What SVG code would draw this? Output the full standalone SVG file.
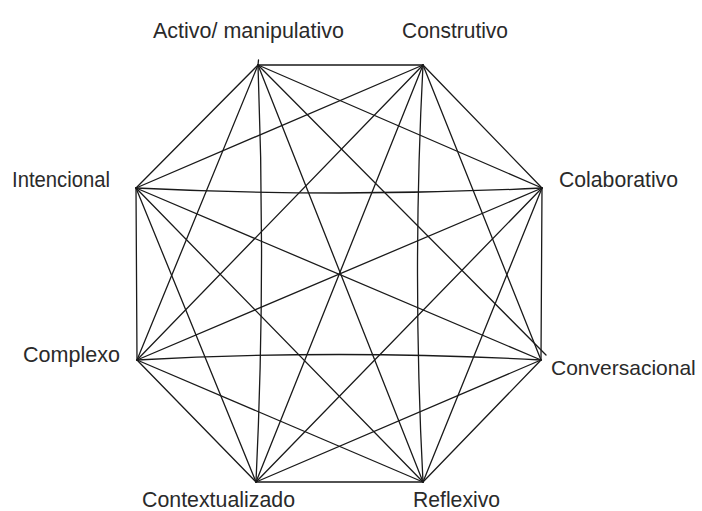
<svg xmlns="http://www.w3.org/2000/svg" width="702" height="511" viewBox="0 0 702 511">
  <style>
    .edge { fill: none; stroke: #1a1a1a; stroke-width: 1.3; stroke-linecap: round; }
    .label { font-family: "Liberation Sans", Arial, sans-serif; font-size: 22.5px; fill: #2a2a2a; }
    .label-small { font-family: "Liberation Sans", Arial, sans-serif; font-size: 21px; fill: #2a2a2a; }
  </style>
  <rect width="702" height="511" fill="#ffffff"/>

  <!-- Connectors: every pair of the eight learning attributes -->
  <g id="connectors">
    <!-- octagon sides -->
    <line class="edge" x1="258" y1="65" x2="423" y2="65"/>
    <line class="edge" x1="423" y1="65" x2="542" y2="188"/>
    <line class="edge" x1="542" y1="188" x2="541" y2="360"/>
    <line class="edge" x1="541" y1="360" x2="423" y2="482"/>
    <line class="edge" x1="423" y1="482" x2="256" y2="482"/>
    <line class="edge" x1="256" y1="482" x2="137" y2="360"/>
    <line class="edge" x1="137" y1="360" x2="136" y2="188"/>
    <line class="edge" x1="136" y1="188" x2="258" y2="65"/>

    <!-- slightly bowed chords -->
    <path class="edge" d="M258.5,60 L258,65 Q266,273 256,482"/>
    <path class="edge" d="M423,65 Q412,273 423,482"/>
    <path class="edge" d="M136,188 Q339,198 542,188"/>
    <path class="edge" d="M137,360 Q339,349 541,360"/>

    <!-- from Activo/ manipulativo -->
    <line class="edge" x1="258" y1="65" x2="542" y2="188"/>
    <line class="edge" x1="258" y1="65" x2="546" y2="355"/>
    <line class="edge" x1="258" y1="65" x2="423" y2="482"/>
    <line class="edge" x1="258" y1="65" x2="137" y2="360"/>

    <!-- from Construtivo -->
    <line class="edge" x1="423" y1="65" x2="541" y2="360"/>
    <line class="edge" x1="423" y1="65" x2="256" y2="482"/>
    <line class="edge" x1="423" y1="65" x2="137" y2="360"/>
    <line class="edge" x1="423" y1="65" x2="136" y2="188"/>

    <!-- from Colaborativo -->
    <line class="edge" x1="542" y1="188" x2="423" y2="482"/>
    <line class="edge" x1="542" y1="188" x2="256" y2="482"/>
    <line class="edge" x1="542" y1="188" x2="137" y2="360"/>

    <!-- from Conversacional -->
    <line class="edge" x1="541" y1="360" x2="256" y2="482"/>
    <line class="edge" x1="541" y1="360" x2="136" y2="188"/>

    <!-- from Reflexivo -->
    <line class="edge" x1="423" y1="482" x2="137" y2="360"/>
    <line class="edge" x1="423" y1="482" x2="136" y2="188"/>

    <!-- from Contextualizado -->
    <line class="edge" x1="256" y1="482" x2="136" y2="188"/>
  </g>

  <!-- Nodes -->
  <g id="node-activo">
    <text class="label" x="153" y="38" textLength="191" lengthAdjust="spacingAndGlyphs">Activo/ manipulativo</text>
  </g>
  <g id="node-construtivo">
    <text class="label" x="402" y="38" textLength="106" lengthAdjust="spacingAndGlyphs">Construtivo</text>
  </g>
  <g id="node-colaborativo">
    <text class="label" x="559" y="187" textLength="119" lengthAdjust="spacingAndGlyphs">Colaborativo</text>
  </g>
  <g id="node-conversacional">
    <text class="label-small" x="551" y="375">Conversacional</text>
  </g>
  <g id="node-reflexivo">
    <text class="label" x="413" y="507" textLength="87" lengthAdjust="spacingAndGlyphs">Reflexivo</text>
  </g>
  <g id="node-contextualizado">
    <text class="label" x="142" y="507" textLength="153" lengthAdjust="spacingAndGlyphs">Contextualizado</text>
  </g>
  <g id="node-complexo">
    <text class="label" x="23" y="362" textLength="97" lengthAdjust="spacingAndGlyphs">Complexo</text>
  </g>
  <g id="node-intencional">
    <text class="label" x="12" y="187" textLength="98" lengthAdjust="spacingAndGlyphs">Intencional</text>
  </g>
</svg>
